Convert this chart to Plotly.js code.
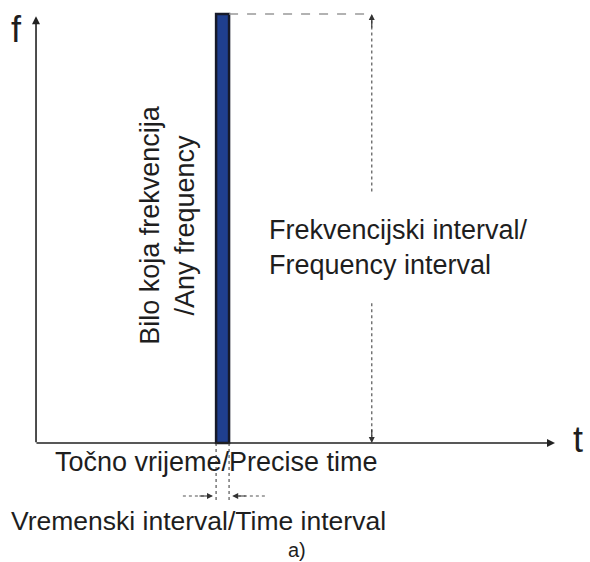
<!DOCTYPE html>
<html><head><meta charset="utf-8">
<script src="https://cdn.plot.ly/plotly-3.0.1.min.js"></script>
<style>html,body{margin:0;padding:0;background:#fff}#c{width:590px;height:562px}</style>
</head><body><div id="c"></div>
<script>
// Diagram data (t = time, f = frequency), arbitrary units
const barTime = [3.595];          // precise time instant
const barWidth = [0.25];          // time interval width
const barFreq = [10];             // covers any frequency (full range)
const freqInterval = [0, 10];     // frequency interval bounds
const freqMarkerTime = 6.47;      // where the frequency interval arrow sits
const tAxisEnd = 10;
const fAxisEnd = 9.95;
const labels = {
  f: "f", t: "t",
  freq: "Frekvencijski interval/<br>Frequency interval",
  any: "Bilo koja frekvencija<br>/Any frequency",
  precise: "Točno vrijeme/Precise time",
  timeInt: "Vremenski interval/Time interval",
  sub: "a)"
};

const tL = barTime[0] - barWidth[0]/2, tR = barTime[0] + barWidth[0]/2;
const txtColor = '#1e1e1e';
const font = {family: 'Liberation Sans, Arial, sans-serif', size: 27, color: txtColor};

const traces = [{
  type: 'bar', x: barTime, y: barFreq, width: barWidth, base: [0],
  marker: {color: '#1f3f8f', line: {color: '#161a2a', width: 2.5}},
  hoverinfo: 'skip'
}];

const shapes = [
  {type:'line', x0:tR, x1:freqMarkerTime, y0:freqInterval[1], y1:freqInterval[1], line:{color:'#999', width:1.3, dash:'dash'}},
  {type:'line', x0:freqMarkerTime, x1:freqMarkerTime, y0:freqInterval[1]-0.15, y1:5.85, line:{color:'#555', width:1.2, dash:'dot'}},
  {type:'line', x0:freqMarkerTime, x1:freqMarkerTime, y0:3.26, y1:freqInterval[0]+0.15, line:{color:'#555', width:1.2, dash:'dot'}},
  {type:'line', x0:tL, x1:tL, y0:0, y1:-1.40, line:{color:'#555', width:1.2, dash:'dot'}},
  {type:'line', x0:tR, x1:tR, y0:0, y1:-1.40, line:{color:'#555', width:1.2, dash:'dot'}},
  {type:'line', x0:2.83, x1:3.3, y0:-1.235, y1:-1.235, line:{color:'#555', width:1.2, dash:'dot'}},
  {type:'line', x0:4.41, x1:3.9, y0:-1.235, y1:-1.235, line:{color:'#555', width:1.2, dash:'dot'}}
];

const arr = (x, y, ax, ay, w, color, size) => ({x, y, ax, ay, xref:'x', yref:'y', axref:'x', ayref:'y', text:'', showarrow:true, arrowhead:2, arrowsize:size||1, arrowwidth:w, arrowcolor:color});

const annotations = [
  arr(tAxisEnd, 0, -0.02, 0, 1.6, '#222', 1),
  arr(0, fAxisEnd, 0, -0.02, 1.6, '#222', 1),
  arr(freqMarkerTime, freqInterval[1], freqMarkerTime, freqInterval[1]-0.35, 1.2, '#333', 1),
  arr(freqMarkerTime, freqInterval[0], freqMarkerTime, freqInterval[0]+0.35, 1.2, '#333', 1),
  arr(tL-0.06, -1.235, tL-0.35, -1.235, 1.2, '#333', 1),
  arr(tR+0.06, -1.235, tR+0.35, -1.235, 1.2, '#333', 1),
  {x:-0.37, y:9.63, xref:'x', yref:'y', text:labels.f, showarrow:false, font:{...font, size:36}},
  {x:10.44, y:0.07, xref:'x', yref:'y', text:labels.t, showarrow:false, font:{...font, size:36}},
  {x:4.45, y:4.56, xref:'x', yref:'y', xanchor:'left', text:labels.freq, align:'left', showarrow:false, font:font},
  {x:2.52, y:5.08, xref:'x', yref:'y', text:labels.any, textangle:-90, align:'center', showarrow:false, font:font},
  {x:3.47, y:-0.44, xref:'x', yref:'y', text:labels.precise, showarrow:false, font:font},
  {x:3.14, y:-1.82, xref:'x', yref:'y', text:labels.timeInt, showarrow:false, font:{...font, size:26.5}},
  {x:5.03, y:-2.5, xref:'x', yref:'y', text:labels.sub, showarrow:false, font:{...font, size:20}}
];

const layout = {
  width:590, height:562, margin:{l:0,r:0,t:0,b:0},
  paper_bgcolor:'#fff', plot_bgcolor:'#fff', showlegend:false,
  xaxis:{range:[-0.694, 10.675], visible:false, fixedrange:true},
  yaxis:{range:[-2.774, 10.326], visible:false, fixedrange:true},
  shapes, annotations
};
Plotly.newPlot('c', traces, layout, {staticPlot:true});
</script></body></html>
